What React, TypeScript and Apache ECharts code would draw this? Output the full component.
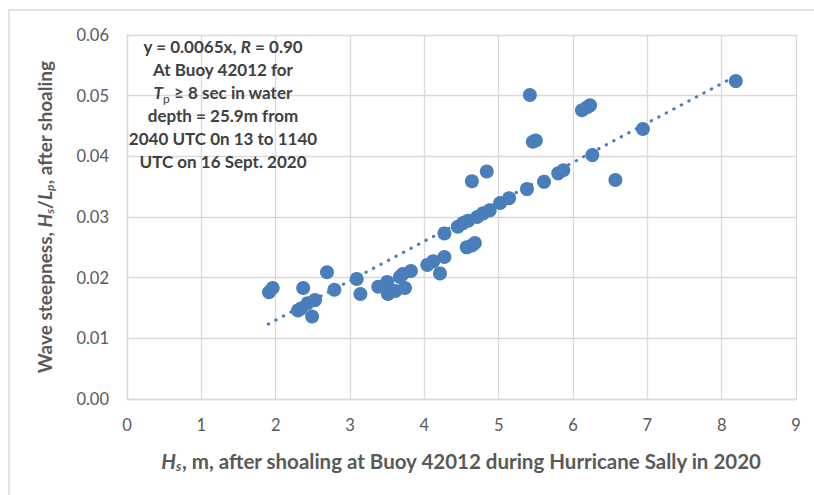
import React, { useEffect, useRef } from "react";
import * as echarts from "echarts";

const hs: number[] = [
  1.91, 1.96, 2.37, 2.30, 2.34, 2.43, 2.53, 2.49, 2.69, 2.79, 3.09, 3.14, 3.38, 3.50, 3.51, 3.61,
  3.74, 3.67, 3.71, 3.82, 4.04, 4.12, 4.21, 4.27, 4.27, 4.57, 4.64, 4.68, 4.64, 4.84, 4.45, 4.52,
  4.59, 4.71, 4.79, 4.88, 5.02, 5.14, 5.38, 5.61, 5.80, 5.87, 6.26, 6.57, 6.94, 8.19, 6.12, 6.19,
  6.23, 5.42, 5.46, 5.50,
];
const steepness: number[] = [
  0.0176, 0.0183, 0.0183, 0.0146, 0.0149, 0.0158, 0.0163, 0.0136, 0.0209, 0.0180, 0.0198, 0.0173,
  0.0185, 0.0193, 0.0173, 0.0178, 0.0183, 0.0201, 0.0206, 0.0211, 0.0221, 0.0227, 0.0207, 0.0234,
  0.0273, 0.0250, 0.0253, 0.0257, 0.0359, 0.0375, 0.0284, 0.0290, 0.0294, 0.0300, 0.0306, 0.0311,
  0.0323, 0.0331, 0.0346, 0.0358, 0.0372, 0.0377, 0.0402, 0.0361, 0.0445, 0.0524, 0.0476, 0.0481,
  0.0484, 0.0501, 0.0424, 0.0426,
];
const trendSlope = 0.0065;
const trendRange: number[] = [1.9, 8.2];

const xTicks = { min: 0, max: 9, interval: 1 };
const yTicks = { min: 0, max: 0.06, interval: 0.01 };

const annotationLines: string[] = [
  "y = 0.0065x, {bi|R} = 0.90",
  "At Buoy 42012 for",
  "{bi|T}{bsub|p} ≥ 8 sec in water",
  "depth = 25.9m from",
  "2040 UTC 0n 13 to 1140",
  "UTC on 16 Sept. 2020",
];

const FONT = "Lato, 'Open Sans', sans-serif";
const BLUE = "#4a7ebb";
const GRID = "#d9d9d9";
const AXIS_TEXT = "#595959";

const titleRich = (size: number) => ({
  i: { fontStyle: "italic", fontWeight: "bold", fontSize: size, color: AXIS_TEXT, fontFamily: FONT },
  isub: {
    fontStyle: "italic",
    fontWeight: "bold",
    fontSize: Math.round(size * 0.65),
    color: AXIS_TEXT,
    fontFamily: FONT,
    verticalAlign: "bottom",
    padding: [9, 0, 0, 0],
  },
});

export default function App() {
  const ref = useRef<HTMLDivElement>(null);
  useEffect(() => {
    if (!ref.current) return;
    const chart = echarts.init(ref.current, null, { renderer: "svg" });
    const scatterData = hs.map((x, i) => [x, steepness[i]]);
    const trendData = trendRange.map((x) => [x, trendSlope * x]);
    chart.setOption({
      animation: false,
      backgroundColor: "#ffffff",
      textStyle: { fontFamily: FONT },
      grid: { left: 127, right: 18, top: 35, bottom: 96, containLabel: false },
      xAxis: {
        type: "value",
        min: xTicks.min,
        max: xTicks.max,
        interval: xTicks.interval,
        axisLine: { show: true, lineStyle: { color: GRID, width: 1.3 } },
        axisTick: { show: false },
        splitLine: { show: true, lineStyle: { color: GRID, width: 1.3 } },
        axisLabel: { color: AXIS_TEXT, fontSize: 16.5, margin: 17, fontFamily: FONT },
        name: "{i|H}{isub|s}, m, after shoaling at Buoy 42012 during Hurricane Sally in 2020",
        nameLocation: "middle",
        nameGap: 51,
        nameTextStyle: {
          color: AXIS_TEXT,
          fontSize: 20.5,
          fontWeight: "bold",
          fontFamily: FONT,
          rich: titleRich(20.5),
        },
      },
      yAxis: {
        type: "value",
        min: yTicks.min,
        max: yTicks.max,
        interval: yTicks.interval,
        axisLine: { show: true, lineStyle: { color: GRID, width: 1.3 } },
        axisTick: { show: false },
        splitLine: { show: true, lineStyle: { color: GRID, width: 1.3 } },
        axisLabel: {
          color: AXIS_TEXT,
          fontSize: 16.5,
          margin: 18,
          fontFamily: FONT,
          formatter: (v: number) => v.toFixed(2),
        },
        name: "Wave steepness, {i|H}{isub|s}/{i|L}{isub|p}, after shoaling",
        nameLocation: "middle",
        nameGap: 72,
        nameTextStyle: {
          color: AXIS_TEXT,
          fontSize: 19,
          fontWeight: "bold",
          fontFamily: FONT,
          rich: titleRich(19),
        },
      },
      graphic: [
        {
          type: "rect",
          silent: true,
          shape: { x: 9, y: 10, width: 900, height: 700 },
          style: { fill: "none", stroke: GRID, lineWidth: 1.3 },
          z: -1,
        },
        {
          type: "text",
          silent: true,
          x: 223,
          y: 35,
          style: {
            text: annotationLines.join("\n"),
            textAlign: "center",
            textVerticalAlign: "top",
            fill: "#404040",
            fontSize: 17,
            fontWeight: "bold",
            fontFamily: FONT,
            lineHeight: 23,
            rich: {
              bi: { fontStyle: "italic", fontWeight: "bold", fontSize: 17, fill: "#404040", fontFamily: FONT, lineHeight: 23 },
              bsub: { fontWeight: "normal", fontSize: 12, fill: "#404040", fontFamily: FONT, verticalAlign: "bottom", lineHeight: 23, padding: [8, 0, 0, 0] },
            },
          },
          z: 10,
        },
      ],
      series: [
        {
          type: "line",
          data: trendData,
          showSymbol: false,
          symbol: "none",
          lineStyle: { color: BLUE, width: 3, type: [0.5, 8], cap: "round" },
          z: 1,
        },
        {
          type: "scatter",
          data: scatterData,
          symbol: "circle",
          symbolSize: 14,
          itemStyle: { color: BLUE, opacity: 1 },
          z: 2,
        },
      ],
    });
    return () => chart.dispose();
  }, []);
  return (
    <div
      ref={ref}
      style={{ position: "fixed", left: 0, top: 0, width: 814, height: 495 }}
    />
  );
}
